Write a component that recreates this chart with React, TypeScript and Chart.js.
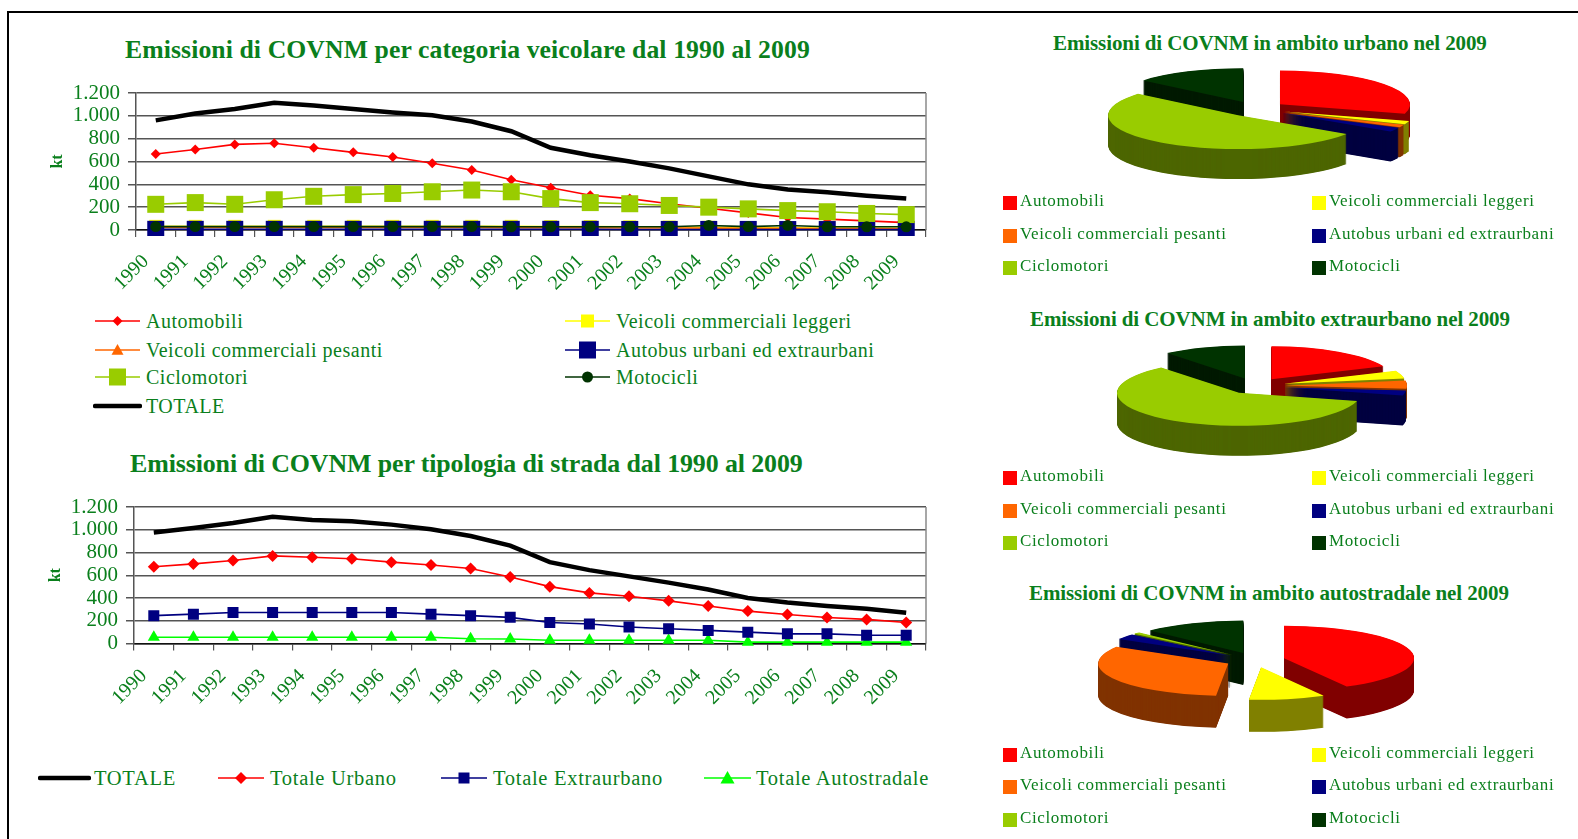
import React, { useEffect, useRef } from "react";
import { Chart, registerables } from "chart.js";

Chart.register(...registerables);

// ---------- data ----------
const years = ["1990","1991","1992","1993","1994","1995","1996","1997","1998","1999","2000","2001","2002","2003","2004","2005","2006","2007","2008","2009"];
const yTickLabels: Record<number, string> = { 0: "0", 200: "200", 400: "400", 600: "600", 800: "800", 1000: "1.000", 1200: "1.200" };

const automobili = [665,705,750,760,720,680,640,585,525,440,370,305,275,230,190,150,110,95,80,65];
const commLeggeri = [32,32,32,32,32,32,32,32,32,32,30,30,28,26,24,22,20,18,16,14];
const commPesanti = [22,22,22,22,22,22,22,22,22,20,20,20,18,18,16,14,14,12,12,10];
const autobus = [6,6,6,6,6,6,6,6,6,6,6,6,5,5,5,5,4,4,4,4];
const ciclomotori = [225,240,225,265,295,310,320,335,350,335,275,240,230,215,200,185,170,160,145,135];
const motocicli = [30,30,30,30,30,30,30,30,30,28,28,28,28,28,40,30,40,28,28,28];
const totaleCategorie = [960,1020,1060,1115,1090,1060,1030,1005,950,865,720,655,600,540,470,400,355,330,300,275];

const totaleStrada = [975,1015,1060,1115,1085,1075,1045,1005,945,860,715,645,590,535,475,400,360,330,305,270];
const totaleUrbano = [675,700,730,770,758,745,715,690,660,585,500,445,415,375,330,285,255,228,212,185];
const totaleExtraurbano = [245,258,272,272,272,272,272,258,245,230,185,172,145,130,115,100,85,85,72,72];
const totaleAutostradale = [55,55,55,55,55,55,55,55,42,40,28,28,28,28,28,12,12,12,12,12];

const pieCategories = ["Automobili","Veicoli commerciali leggeri","Veicoli commerciali pesanti","Autobus urbani ed extraurbani","Ciclomotori","Motocicli"];
const sharesUrbano = [29.5,1.6,1.2,2,51.7,14];
const sharesExtraurbano = [18.5,4,4,2.5,60,11];
const sharesAutostradale = [42,9.5,32,2.8,0.9,12.8];

// ---------- styles ----------
const GREEN = "#0a7f1c";
const SERIF = '"Liberation Serif"';
const RED = "#ff0000", YELLOW = "#ffff00", ORANGE = "#ff6600", NAVY = "#000080", LIME = "#99cc00", DKGREEN = "#003300", LIGHTGREEN = "#00ff00";
const sliceColors = [RED, YELLOW, ORANGE, NAVY, LIME, DKGREEN];
const sliceSides = ["#800000", "#808000", "#803300", "#000040", "#4d6600", "#001a00"];

type Marker = "rectRot" | "rect" | "triangle" | "circle" | false;
interface Series { label: string; data: number[]; color: string; width: number; marker: Marker; size: number; }

const series1: Series[] = [
  { label: "Automobili", data: automobili, color: RED, width: 1.6, marker: "rectRot", size: 5 },
  { label: "Veicoli commerciali leggeri", data: commLeggeri, color: YELLOW, width: 1.6, marker: "rect", size: 6.5 },
  { label: "Veicoli commerciali pesanti", data: commPesanti, color: ORANGE, width: 1.6, marker: "triangle", size: 6 },
  { label: "Autobus urbani ed extraurbani", data: autobus, color: NAVY, width: 1.6, marker: "rect", size: 8.5 },
  { label: "Ciclomotori", data: ciclomotori, color: LIME, width: 1.6, marker: "rect", size: 8.5 },
  { label: "Motocicli", data: motocicli, color: DKGREEN, width: 1.6, marker: "circle", size: 5.5 },
  { label: "TOTALE", data: totaleCategorie, color: "#000000", width: 4.5, marker: false, size: 0 },
];
const series2: Series[] = [
  { label: "Totale Autostradale", data: totaleAutostradale, color: LIGHTGREEN, width: 1.6, marker: "triangle", size: 7 },
  { label: "Totale Extraurbano", data: totaleExtraurbano, color: NAVY, width: 1.6, marker: "rect", size: 5.5 },
  { label: "Totale Urbano", data: totaleUrbano, color: RED, width: 1.6, marker: "rectRot", size: 6 },
  { label: "TOTALE", data: totaleStrada, color: "#000000", width: 4.5, marker: false, size: 0 },
];

const frameBorder: any = {
  id: "frameBorder",
  afterDraw(chart: any) {
    const { ctx, chartArea: a } = chart;
    ctx.save();
    ctx.strokeStyle = "#8a8a8a";
    ctx.lineWidth = 1.5;
    ctx.beginPath();
    ctx.moveTo(a.right, a.top);
    ctx.lineTo(a.right, a.bottom);
    ctx.stroke();
    ctx.restore();
  },
};

const noPadding = (s: any) => {
  s.paddingTop = 0;
  s.paddingBottom = 0;
  s.paddingLeft = 0;
  s.paddingRight = 0;
};

function LineChart({ list, left, top, width, height, plotTop, axisW, axisH, xPad }: any) {
  const ref = useRef<HTMLCanvasElement>(null);
  useEffect(() => {
    const chart = new Chart(ref.current!, {
      type: "line",
      data: {
        labels: years,
        datasets: list.map((s: Series, i: number) => ({
          label: s.label,
          data: s.data,
          borderColor: s.color,
          backgroundColor: s.color,
          borderWidth: s.width,
          tension: 0,
          pointStyle: s.marker,
          pointRadius: s.marker ? (s.marker === "rect" ? s.size * Math.SQRT2 : s.size) : 0,
          pointBorderWidth: 0,
          pointBackgroundColor: s.color,
          order: list.length - i,
          clip: { left: false, right: false, top: false, bottom: 6 },
        })),
      },
      options: {
        animation: false,
        responsive: false,
        layout: { autoPadding: false, padding: { top: plotTop, right: 4, left: 0, bottom: 0 } },
        plugins: { legend: { display: false }, title: { display: false }, tooltip: { enabled: false } },
        scales: {
          x: {
            offset: true,
            afterFit: (s: any) => { s.height = axisH; noPadding(s); },
            grid: { offset: true, drawOnChartArea: false, drawTicks: true, tickLength: 7, color: "#555555", lineWidth: 1.2 },
            border: { color: "#111111", width: 1.5 },
            ticks: { autoSkip: false, minRotation: 45, maxRotation: 45, padding: xPad, labelOffset: -10, color: GREEN, font: { family: SERIF, size: 20 } },
          },
          y: {
            min: 0,
            max: 1200,
            afterFit: (s: any) => { s.width = axisW; noPadding(s); },
            grid: { color: "#555555", lineWidth: 1.5, tickLength: 8, drawTicks: true },
            border: { color: "#555555", width: 1.5 },
            title: { display: true, text: "kt", color: GREEN, font: { family: SERIF, size: 16, weight: "bold" }, padding: 0 },
            ticks: {
              autoSkip: false,
              stepSize: 200,
              padding: 8,
              color: GREEN,
              font: { family: SERIF, size: 21 },
              callback: (v: any) => yTickLabels[v as number],
            },
          },
        },
      },
      plugins: [frameBorder],
    } as any);
    return () => chart.destroy();
  }, []);
  return <canvas ref={ref} width={width} height={height} style={{ position: "absolute", left, top, width, height, display: "block" }} />;
}

const pie3d: any = {
  id: "pie3d",
  beforeDatasetsDraw(chart: any, _a: any, opts: any) {
    const { ctx } = chart;
    const meta = chart.getDatasetMeta(0);
    const arcs: any[] = meta.data.map((arc: any, i: number) => ({ arc, i, mid: (arc.startAngle + arc.endAngle) / 2 }));
    arcs.sort((p, q) => Math.sin(p.mid) - Math.sin(q.mid));
    for (const { arc, i, mid } of arcs) {
      const cx = arc.x, cy = arc.y;
      const base = arc.options;
      const side = Object.create(base);
      Object.defineProperty(side, "backgroundColor", { value: sliceSides[i] });
      const paint = (d: number) => {
        ctx.save();
        ctx.translate(cx, cy + d);
        ctx.scale(1, opts.squash);
        ctx.translate(-cx, -cy);
        ctx.translate(Math.cos(mid) * opts.explode, Math.sin(mid) * opts.explode);
        arc.draw(ctx);
        ctx.restore();
      };
      arc.options = side;
      for (let d = opts.depth; d > 0; d -= 0.5) paint(d);
      arc.options = base;
      paint(0);
    }
    return false;
  },
};

function Pie3D({ values, cx, cy, radius, squash, depth }: any) {
  const ref = useRef<HTMLCanvasElement>(null);
  const w = 440, h = 180;
  useEffect(() => {
    const chart = new Chart(ref.current!, {
      type: "pie",
      data: {
        labels: pieCategories,
        datasets: [{ data: values, backgroundColor: sliceColors, borderWidth: 0 }],
      },
      options: {
        animation: false,
        responsive: false,
        radius,
        layout: { padding: 0 },
        plugins: { legend: { display: false }, tooltip: { enabled: false }, pie3d: { squash, depth, explode: 30 } },
      },
      plugins: [pie3d],
    } as any);
    return () => chart.destroy();
  }, []);
  return <canvas ref={ref} width={w} height={h} style={{ position: "absolute", left: cx - w / 2, top: cy - h / 2, width: w, height: h, display: "block" }} />;
}

function Text({ x, y, children, size, bold, spacing }: any) {
  return (
    <div style={{ position: "absolute", left: x, top: y - 15, height: 30, lineHeight: "30px", whiteSpace: "nowrap", color: GREEN, fontFamily: SERIF, fontSize: size, fontWeight: bold ? "bold" : "normal", letterSpacing: spacing }}>
      {children}
    </div>
  );
}

function LegendLine({ x, y, len, s }: { x: number; y: number; len: number; s: Series }) {
  const c = len / 2, m = 12, r = s.size;
  let mark: any = null;
  if (s.marker === "rect") mark = <rect x={c - r} y={m - r} width={2 * r} height={2 * r} fill={s.color} />;
  if (s.marker === "rectRot") mark = <polygon points={`${c},${m - r} ${c + r},${m} ${c},${m + r} ${c - r},${m}`} fill={s.color} />;
  if (s.marker === "triangle") mark = <polygon points={`${c},${m - r} ${c + r},${m + r * 0.8} ${c - r},${m + r * 0.8}`} fill={s.color} />;
  if (s.marker === "circle") mark = <circle cx={c} cy={m} r={r} fill={s.color} />;
  return (
    <svg width={len + 4} height={24} style={{ position: "absolute", left: x - 2, top: y - 12 }}>
      <g transform="translate(2,0)">
        <line x1={0} x2={len} y1={m} y2={m} stroke={s.color} strokeWidth={s.width} strokeLinecap={s.marker ? "butt" : "round"} />
        {mark}
      </g>
    </svg>
  );
}

function PieLegend({ rows }: { rows: number[] }) {
  const cols = [1003, 1312];
  return (
    <>
      {pieCategories.map((name, i) => {
        const x = cols[i % 2];
        const y = rows[Math.floor(i / 2)];
        return (
          <React.Fragment key={name}>
            <div style={{ position: "absolute", left: x, top: y - 7, width: 14, height: 14, background: sliceColors[i] }} />
            <Text x={x + 17} y={y - 2.5} size={17} spacing={0.62}>{name}</Text>
          </React.Fragment>
        );
      })}
    </>
  );
}

const legend1Pos: [number, number][] = [[95, 321], [565, 321], [95, 350], [565, 350], [95, 377], [565, 377], [95, 406]];
const legend2Pos: [string, number, number, number][] = [["TOTALE", 40, 94, 49], ["Totale Urbano", 218, 270, 46], ["Totale Extraurbano", 441, 493, 46], ["Totale Autostradale", 704, 756, 47]];

export default function App() {
  return (
    <div style={{ position: "fixed", left: 0, top: 0, width: 1578, height: 839, overflow: "hidden", background: "#fff" }}>
      <div style={{ position: "absolute", left: 7, top: 11, width: 1571, height: 2, background: "#000" }} />
      <div style={{ position: "absolute", left: 7, top: 11, width: 2, height: 828, background: "#000" }} />

      <Text x={125} y={50} size={25.7} bold spacing={0.1}>Emissioni di COVNM per categoria veicolare dal 1990 al 2009</Text>
      <LineChart list={series1} left={48} top={76} width={882} height={220} plotTop={17} axisW={88} axisH={66} xPad={13} />
      {series1.map((s, i) => (
        <React.Fragment key={s.label}>
          <LegendLine x={legend1Pos[i][0]} y={legend1Pos[i][1]} len={45} s={s} />
          <Text x={legend1Pos[i][0] + 51} y={legend1Pos[i][1]} size={20} spacing={0.5}>{s.label}</Text>
        </React.Fragment>
      ))}

      <Text x={130} y={464} size={25.9} bold spacing={-0.1}>Emissioni di COVNM per tipologia di strada dal 1990 al 2009</Text>
      <LineChart list={series2} left={46} top={490} width={884} height={225} plotTop={17} axisW={88} axisH={71.5} xPad={14} />
      {legend2Pos.map(([label, xl, xt, len]) => {
        const s = series2.find((q) => q.label === label)!;
        return (
          <React.Fragment key={label}>
            <LegendLine x={xl} y={778} len={len} s={s} />
            <Text x={xt} y={778} size={20.5} spacing={0.7}>{label}</Text>
          </React.Fragment>
        );
      })}

      <Text x={1053} y={43} size={21} bold spacing={-0.1}>Emissioni di COVNM in ambito urbano nel 2009</Text>
      <Pie3D values={sharesUrbano} cx={1256} cy={109} radius={130} squash={0.26} depth={30} />
      <PieLegend rows={[203, 236, 268]} />

      <Text x={1030} y={319} size={21} bold spacing={-0.1}>Emissioni di COVNM in ambito extraurbano nel 2009</Text>
      <Pie3D values={sharesExtraurbano} cx={1254.5} cy={386} radius={122} squash={0.27} depth={30} />
      <PieLegend rows={[478, 511, 543]} />

      <Text x={1029} y={593} size={21} bold spacing={-0.1}>Emissioni di COVNM in ambito autostradale nel 2009</Text>
      <Pie3D values={sharesAutostradale} cx={1255} cy={660} radius={130} squash={0.25} depth={32} />
      <PieLegend rows={[755, 787, 820]} />
    </div>
  );
}
